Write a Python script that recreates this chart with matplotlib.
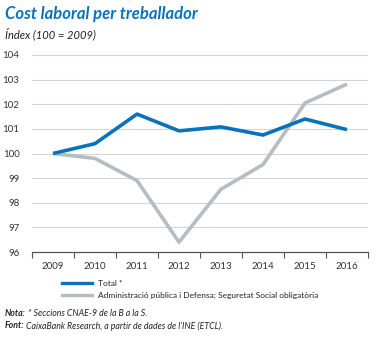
import numpy as np
import matplotlib
matplotlib.use("Agg")
import matplotlib.pyplot as plt

years = ["2009", "2010", "2011", "2012", "2013", "2014", "2015", "2016"]
total = [100.0, 100.4, 101.6, 100.92, 101.08, 100.75, 101.4, 100.97]
admin = [100.0, 99.8, 98.9, 96.4, 98.55, 99.55, 102.05, 102.82]
yticks = [96, 97, 98, 99, 100, 101, 102, 103, 104]

BLUE = "#0a72ba"
GREY = "#b4bdc3"
FONT = "Lato"

plt.rcParams["font.family"] = [FONT, "DejaVu Sans"]

W, H = 386, 338
fig = plt.figure(figsize=(W / 100, H / 100), dpi=100, facecolor="white")

def fx(px):
    return px / W

def fy(py):
    return 1 - py / H

ax = fig.add_axes([fx(32), fy(252), fx(368) - fx(32), fy(55) - fy(252)])
x = np.arange(len(years))
ax.plot(x, admin, color=GREY, lw=2.6, solid_capstyle="butt", zorder=3)
ax.plot(x, total, color=BLUE, lw=2.6, solid_capstyle="butt", zorder=4)

ax.set_xlim(-0.5, len(years) - 0.5)
ax.set_ylim(96, 104)
ax.set_yticks(yticks)
ax.set_yticklabels([str(v) for v in yticks], fontsize=7, color="#333333")
for v in yticks[1:]:
    ax.axhline(v, color="#d4d4d4", lw=0.8, zorder=1)

ax.set_xticks(x)
ax.set_xticklabels(years, fontsize=7, color="#333333")
ax.set_xticks(np.arange(-0.5, len(years)), minor=True)
ax.tick_params(axis="x", which="major", length=0, pad=7)
ax.tick_params(axis="x", which="minor", length=4, color="#555555", width=0.8, direction="out")
ax.tick_params(axis="y", length=0, pad=9)
for s in ["top", "right", "left"]:
    ax.spines[s].set_visible(False)
ax.spines["bottom"].set_color("#555555")
ax.spines["bottom"].set_linewidth(0.9)

fig.text(fx(5), fy(14), "Cost laboral per treballador", fontsize=12, fontweight="bold",
         style="italic", color=BLUE, va="center", ha="left")
fig.text(fx(5), fy(34), "Índex (100 = 2009)", fontsize=8, style="italic",
         color="#222222", va="center", ha="left")

# legend
for py, col, lab in [(283, BLUE, "Total *"),
                     (295, GREY, "Administració pública i Defensa; Seguretat Social obligatòria")]:
    fig.add_artist(plt.Line2D([fx(62), fx(92)], [fy(py), fy(py)], color=col, lw=2.4))
    fig.text(fx(98), fy(py), lab, fontsize=6.0, color="#222222", va="center", ha="left")

# notes
fig.canvas.draw()
r = fig.canvas.get_renderer()
for py, head, body in [(313, "Nota:", " * Seccions CNAE-9 de la B a la S."),
                       (326, "Font:", " CaixaBank Research, a partir de dades de l’INE (ETCL).")]:
    t = fig.text(fx(5), fy(py), head, fontsize=6.3, fontweight="bold", style="italic",
                 color="#222222", va="center", ha="left")
    bb = t.get_window_extent(renderer=r)
    fig.text(bb.x1 / W, fy(py), body, fontsize=6.3, style="italic",
             color="#222222", va="center", ha="left")

fig.savefig("out.png", dpi=100, facecolor="white")
